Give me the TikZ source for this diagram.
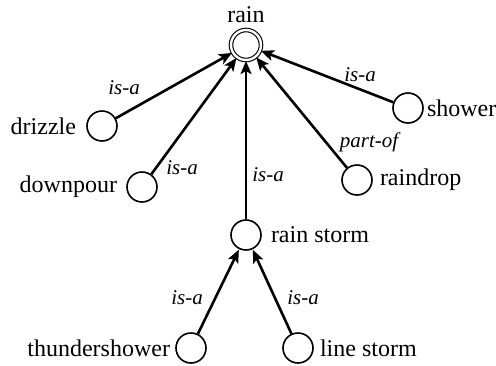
\documentclass[tikz,border=0pt]{standalone}
\usepackage{fontspec}
\setmainfont{Liberation Serif}
\newfontfamily\tms{Liberation Serif}
\usetikzlibrary{arrows.meta}
\begin{document}
\begin{tikzpicture}[x=1pt,y=-1pt,
  cnode/.style={circle,draw,line width=1.6pt,minimum size=30pt,inner sep=0pt},
  rnode/.style={circle,draw,line width=1.1pt,double,double distance=2.4pt,minimum size=30pt,inner sep=0pt},
  txt/.style={font=\tms\fontsize{24}{28}\selectfont,inner sep=0pt},
  lbl/.style={font=\tms\fontsize{21}{24}\selectfont\itshape,inner sep=0pt},
  arr/.style={line width=2.6pt,-{Stealth[length=13pt,width=11pt,inset=3pt]},shorten >=0.5pt}]
\useasboundingbox (0,0) rectangle (496,365);
\node[rnode] (rain) at (246,45) {};
\node[cnode] (drizzle) at (102,126) {};
\node[cnode] (downpour) at (142,187) {};
\node[cnode] (shower) at (408,108) {};
\node[cnode] (raindrop) at (357,180) {};
\node[cnode] (rainstorm) at (246,235) {};
\node[cnode] (thunder) at (191,348) {};
\node[cnode] (linestorm) at (298,348) {};
% texts
\node[txt,anchor=base] (train) at (246,22) {rain};
\node[txt,anchor=east] (tdrizzle) at ([xshift=-10pt]drizzle.west) {drizzle};
\node[txt,anchor=east] (tdownpour) at ([xshift=-9pt]downpour.west) {downpour};
\node[txt,anchor=west] (tshower) at ([xshift=3pt]shower.east) {shower};
\node[txt,anchor=west] (traindrop) at ([xshift=7pt]raindrop.east) {raindrop};
\node[txt,anchor=west] (trainstorm) at ([xshift=9pt]rainstorm.east) {rain storm};
\node[txt,anchor=east] (tthunder) at ([xshift=-5pt]thunder.west) {thundershower};
\node[txt,anchor=west] (tlinestorm) at ([xshift=6pt]linestorm.east) {line storm};
% connectors
\draw[arr] (drizzle) -- (rain);
\draw[arr] (downpour) -- (rain);
\draw[arr] (rainstorm) -- (rain);
\draw[arr] (raindrop) -- (rain);
\draw[arr] (shower) -- (rain);
\draw[arr] (thunder) -- (rainstorm);
\draw[arr] (linestorm) -- (rainstorm);
% labels
\node[lbl] (l1) at (124,88) {is-a};
\node[lbl] (l2) at (182,168) {is-a};
\node[lbl] (l3) at (268,175) {is-a};
\node[lbl] (l4) at (369,142) {part-of};
\node[lbl] (l5) at (360,75) {is-a};
\node[lbl] (l6) at (187,298) {is-a};
\node[lbl] (l7) at (303,298) {is-a};
\end{tikzpicture}
\end{document}
